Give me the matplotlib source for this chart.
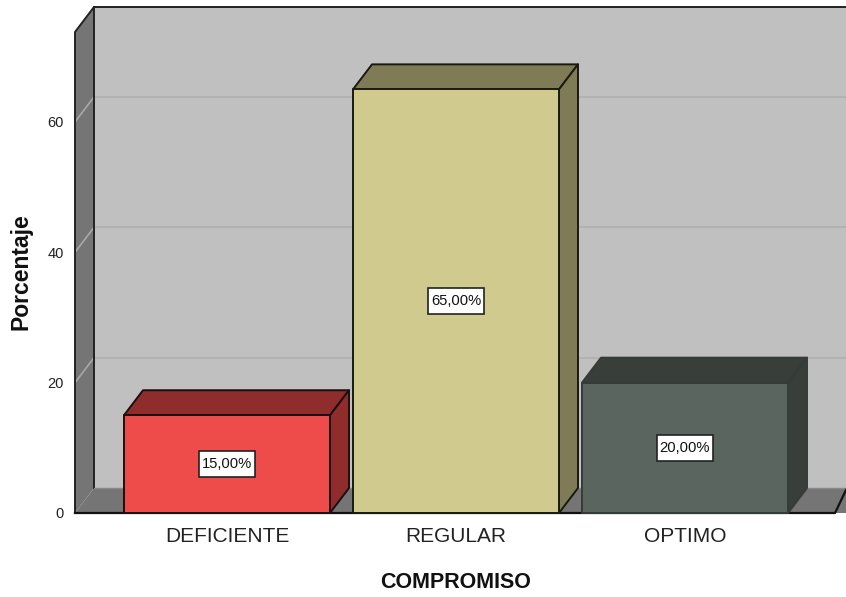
import matplotlib
matplotlib.use('Agg')
import matplotlib.pyplot as plt
from matplotlib.patches import Polygon, Rectangle

plt.rcParams['font.family'] = ['Liberation Sans', 'DejaVu Sans']

# data
categories = ['DEFICIENTE', 'REGULAR', 'OPTIMO']
values = [15, 65, 20]
labels = ['15,00%', '65,00%', '20,00%']
yticks = [0, 20, 40, 60]

front_colors = ['#ee4b4b', '#d0ca8e', '#5a6560']
dark_colors = ['#8f2d2d', '#7f7b56', '#383f3b']
edge_colors = ['#1a1010', '#1a1a10', '#343b38']

# 3D depth offset in data units (19 px and 25 px)
DX = 19 / 229
DY = 25 / 6.52
BAR_W = 206 / 229
YTOP = 73.8
XLEFT = (75 - 227) / 229
XRIGHT = (846 - 227) / 229
BOX_W = 56 / 229
BOX_H = 26 / 6.52

fig = plt.figure(figsize=(8.46, 5.97), dpi=100)
ax = fig.add_axes([75 / 846, 84 / 597, 771 / 846, 481 / 597])
ax.set_xlim(XLEFT, XRIGHT)
ax.set_ylim(0, YTOP)
for s in ax.spines.values():
    s.set_visible(False)


def poly(pts, fc, ec='none', lw=0, z=1):
    ax.add_patch(Polygon(pts, closed=True, facecolor=fc, edgecolor=ec, linewidth=lw,
                         clip_on=False, zorder=z, joinstyle='round'))


# walls and floor
x0 = XLEFT
x1 = XRIGHT + 0.2
poly([(x0 + DX, DY), (x1, DY), (x1, YTOP + DY), (x0 + DX, YTOP + DY)], '#c0c0c0', z=1)
poly([(x0, 0), (x0 + DX, DY), (x0 + DX, YTOP + DY), (x0, YTOP)], '#757575', z=1)
poly([(x0, 0), (x0 + DX, DY), (x1, DY), (x1 - DX, 0)], '#757575', z=1)

# gridlines on the wall
for t in yticks[1:]:
    ax.plot([x0 + DX, x1], [t + DY, t + DY], color='#b2b2b2', lw=1.5, clip_on=False, zorder=2)
    ax.plot([x0, x0 + DX], [t, t + DY], color='#a8a8a8', lw=1.2, clip_on=False, zorder=2)

# wall outlines
ax.plot([x0, x0, x0 + DX, x1], [0, YTOP, YTOP + DY, YTOP + DY], color='#222222', lw=1.4,
        clip_on=False, zorder=3)
ax.plot([x0 + DX, x0 + DX], [DY, YTOP + DY], color='#222222', lw=1.4, clip_on=False, zorder=3)
ax.plot([x0 + DX, x1], [DY, DY], color='#8a8a8a', lw=1, clip_on=False, zorder=3)
ax.plot([x0, XRIGHT - 0.048, XRIGHT], [0, 0, DY * 0.92], color='#111111', lw=1.6,
        clip_on=False, zorder=3)

# bars
for i, v in enumerate(values):
    l = i - BAR_W / 2
    r = i + BAR_W / 2
    ec = edge_colors[i]
    poly([(l, v), (l + DX, v + DY), (r + DX, v + DY), (r, v)], dark_colors[i], ec, 1.4, z=4)
    poly([(r, 0), (r + DX, DY), (r + DX, v + DY), (r, v)], dark_colors[i], ec, 1.4, z=4)
    poly([(l, 0), (r, 0), (r, v), (l, v)], front_colors[i], ec, 1.4, z=5)
    ax.add_patch(Rectangle((i - BOX_W / 2, v / 2 - BOX_H / 2), BOX_W, BOX_H, facecolor='white',
                           edgecolor='#222222', linewidth=1.2, zorder=6))
    ax.text(i, v / 2, labels[i], ha='center', va='center', fontsize=10.6, color='#111111', zorder=7)

ax.set_xticks(range(len(categories)))
ax.set_xticklabels(categories, fontsize=15, color='#222222')
ax.set_yticks(yticks)
ax.tick_params(axis='x', length=0, pad=10)
ax.tick_params(axis='y', length=0, pad=8, labelsize=10.5, labelcolor='#222222')

fig.text(456 / 846, 1 - 582 / 597, 'COMPROMISO', ha='center', va='center', fontsize=15.5,
         fontweight='bold', color='#111111')
fig.text(21 / 846, 1 - 272 / 597, 'Porcentaje', ha='center', va='center', rotation=90,
         fontsize=16.5, fontweight='bold', color='#111111')

fig.savefig('out.png', dpi=100)
